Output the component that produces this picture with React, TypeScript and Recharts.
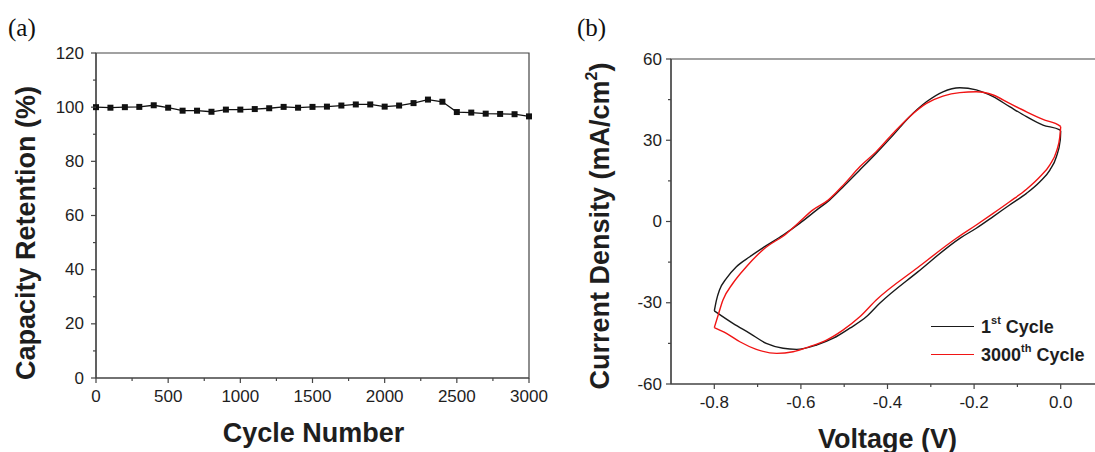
import React from 'react';
import { LineChart, Line, XAxis, YAxis, ReferenceArea, Legend } from 'recharts';

// ---------- Panel (a) data ----------
const cycles = [0, 100, 200, 300, 400, 500, 600, 700, 800, 900, 1000, 1100, 1200, 1300, 1400, 1500, 1600, 1700, 1800, 1900, 2000, 2100, 2200, 2300, 2400, 2500, 2600, 2700, 2800, 2900, 3000];
const retention = [100, 99.8, 100, 100.1, 100.7, 99.8, 98.7, 98.7, 98.3, 99.1, 99.1, 99.3, 99.6, 100.1, 99.8, 100.1, 100.2, 100.6, 101.0, 101.0, 100.2, 100.6, 101.5, 102.8, 102.0, 98.2, 98.0, 97.6, 97.5, 97.4, 96.6];
const retentionTicks = [0, 10, 20, 30, 40, 50, 60, 70, 80, 90, 100, 110, 120];
const cycleTicks = [0, 250, 500, 750, 1000, 1250, 1500, 1750, 2000, 2250, 2500, 2750, 3000];

// ---------- Panel (b) data: each CV loop split into its upper and lower branch ----------
const cycle1UpperV = [-0.800, -0.795, -0.788, -0.772, -0.749, -0.718, -0.680, -0.641, -0.603, -0.564, -0.534, -0.500, -0.464, -0.426, -0.387, -0.349, -0.310, -0.272, -0.233, -0.195, -0.156, -0.118, -0.079, -0.041, -0.002, 0.000];
const cycle1UpperJ = [-33.0, -29.0, -25.3, -21.0, -16.7, -13.0, -8.9, -5.0, -0.7, 4.2, 7.9, 13.2, 19.0, 25.2, 31.9, 38.7, 44.2, 47.9, 49.4, 48.6, 46.1, 42.4, 38.7, 35.6, 33.8, 33.4];
const cycle1LowerV = [-0.800, -0.757, -0.718, -0.680, -0.641, -0.610, -0.564, -0.525, -0.487, -0.449, -0.418, -0.330, -0.233, -0.195, -0.156, -0.118, -0.079, -0.048, -0.025, -0.010, -0.001, 0.000];
const cycle1LowerJ = [-33.0, -37.6, -41.3, -45.0, -46.8, -47.2, -45.6, -43.1, -39.4, -35.2, -30.2, -18.6, -6.2, -2.5, 1.8, 6.1, 10.4, 14.7, 19.0, 23.9, 30.1, 33.4];
const cycle3000UpperV = [-0.800, -0.791, -0.780, -0.757, -0.726, -0.688, -0.633, -0.603, -0.573, -0.537, -0.500, -0.464, -0.426, -0.387, -0.349, -0.310, -0.272, -0.233, -0.195, -0.156, -0.118, -0.079, -0.041, -0.002, 0.000];
const cycle3000UpperJ = [-39.2, -34.5, -29.0, -22.8, -16.7, -10.5, -4.4, -0.1, 4.2, 7.9, 13.8, 20.2, 25.8, 32.6, 38.7, 43.6, 46.3, 47.6, 47.9, 46.7, 43.6, 40.5, 37.7, 35.3, 35.0];
const cycle3000LowerV = [-0.800, -0.772, -0.741, -0.703, -0.656, -0.618, -0.580, -0.541, -0.503, -0.464, -0.426, -0.330, -0.241, -0.195, -0.156, -0.118, -0.079, -0.048, -0.025, -0.010, -0.002, 0.000];
const cycle3000LowerJ = [-39.2, -41.3, -44.4, -47.2, -48.7, -48.1, -46.2, -43.8, -40.1, -35.2, -29.0, -17.0, -6.2, -1.3, 3.0, 7.3, 11.9, 16.5, 20.9, 25.8, 31.3, 35.0];
const voltageTicks = [-0.8, -0.7, -0.6, -0.5, -0.4, -0.3, -0.2, -0.1, 0];
const voltageMajor = [-0.8, -0.6, -0.4, -0.2, 0];
const currentTicks = [-60, -45, -30, -15, 0, 15, 30, 45, 60];

const retentionData = cycles.map((c, i) => ({ cycle: c, retention: retention[i] }));
const toPoints = (vs: number[], js: number[]) => vs.map((v, i) => ({ v, j: js[i] }));
const cv1Upper = toPoints(cycle1UpperV, cycle1UpperJ);
const cv1Lower = toPoints(cycle1LowerV, cycle1LowerJ);
const cv3000Upper = toPoints(cycle3000UpperV, cycle3000UpperJ);
const cv3000Lower = toPoints(cycle3000LowerV, cycle3000LowerJ);

const FONT = "Arial, 'Liberation Sans', Helvetica, sans-serif";
const AXIS = '#444';
const TEXT = '#1e1e1e';
const BLACK = '#1a1a1a';
const RED = '#f01414';

const makeYTick = (axisX: number, isMajor: (v: number) => boolean, gap: number, fmt: (v: number) => string) =>
  (props: any) => {
    const { y, payload } = props;
    const v = payload.value;
    const major = isMajor(v);
    return (
      <g>
        <line x1={axisX - (major ? 5 : 3)} x2={axisX} y1={y} y2={y} stroke={AXIS} strokeWidth={1.2} />
        {major && (
          <text x={axisX - gap} y={y} textAnchor="end" dominantBaseline="central" fontFamily={FONT} fontSize={17} fill={TEXT}>
            {fmt(v)}
          </text>
        )}
      </g>
    );
  };

const makeXTick = (axisY: number, isMajor: (v: number) => boolean, fmt: (v: number) => string) =>
  (props: any) => {
    const { x, payload } = props;
    const v = payload.value;
    const major = isMajor(v);
    return (
      <g>
        <line x1={x} x2={x} y1={axisY} y2={axisY + (major ? 5 : 3)} stroke={AXIS} strokeWidth={1.2} />
        {major && (
          <text x={x} y={axisY + 18} textAnchor="middle" dominantBaseline="central" fontFamily={FONT} fontSize={17} fill={TEXT}>
            {fmt(v)}
          </text>
        )}
      </g>
    );
  };

const SquareDot = (props: any) => {
  const { cx, cy, index } = props;
  if (cx == null || cy == null) return <g key={`e${index}`} />;
  return <rect key={`sq${index}`} x={cx - 3} y={cy - 3} width={6} height={6} fill="#111" />;
};

const CvLegend = (props: any) => {
  const payload = (props.payload || []).filter(
    (p: any) => p.type !== 'none' && !String(p.value).includes('(return)')
  );
  return (
    <div style={{ fontFamily: FONT, fontWeight: 'bold', fontSize: 18, color: TEXT }}>
      {payload.map((p: any, i: number) => {
        const m = /^(\d+)(st|nd|rd|th) (.*)$/.exec(String(p.value));
        return (
          <div key={i} style={{ display: 'flex', alignItems: 'center', height: 28.3, whiteSpace: 'nowrap' }}>
            <span style={{ display: 'inline-block', width: 43, height: 0, borderTop: `1.5px solid ${p.color}`, marginRight: 7 }} />
            {m ? (
              <span>
                {m[1]}
                <sup style={{ fontSize: 11, position: 'relative', top: -2 }}>{m[2]}</sup> {m[3]}
              </span>
            ) : (
              <span>{p.value}</span>
            )}
          </div>
        );
      })}
    </div>
  );
};

export default function App() {
  return (
    <div style={{ position: 'absolute', left: 0, top: 0, width: 1095, height: 452, overflow: 'hidden', background: '#fff' }}>
      <div style={{ position: 'absolute', left: 8, top: 13, fontFamily: "'Times New Roman', 'Liberation Serif', serif", fontSize: 25, color: '#111', lineHeight: '30px' }}>(a)</div>
      <div style={{ position: 'absolute', left: 577, top: 13, fontFamily: "'Times New Roman', 'Liberation Serif', serif", fontSize: 25, color: '#111', lineHeight: '30px' }}>(b)</div>

      {/* Panel (a) */}
      <div style={{ position: 'absolute', left: 0, top: 0 }}>
        <LineChart width={560} height={452} data={retentionData} margin={{ top: 53, right: 31, bottom: 0, left: 0 }}>
          <XAxis
            dataKey="cycle"
            type="number"
            domain={[0, 3000]}
            ticks={cycleTicks}
            interval={0}
            height={74}
            axisLine={{ stroke: AXIS, strokeWidth: 1.2 }}
            tickLine={false}
            tick={makeXTick(378, (v) => v % 500 === 0, (v) => String(v))}
            label={{
              content: (p: any) => {
                const vb = p.viewBox || { x: 96, y: 378, width: 433 };
                return (
                  <text x={vb.x + vb.width / 2 + 1} y={442} textAnchor="middle" fontFamily={FONT} fontWeight="bold" fontSize={27} fill={TEXT}>
                    Cycle Number
                  </text>
                );
              },
            }}
          />
          <YAxis
            type="number"
            domain={[0, 120]}
            ticks={retentionTicks}
            interval={0}
            width={96}
            axisLine={{ stroke: AXIS, strokeWidth: 1.2 }}
            tickLine={false}
            tick={makeYTick(96, (v) => v % 20 === 0, 12, (v) => String(v))}
            label={{
              content: () => (
                <text x={35} y={233} transform="rotate(-90 35 233)" textAnchor="middle" fontFamily={FONT} fontWeight="bold" fontSize={27} fill={TEXT}>
                  Capacity Retention (%)
                </text>
              ),
            }}
          />
          <ReferenceArea x1={0} x2={3000} y1={0} y2={120} fill="none" stroke={AXIS} strokeWidth={1.2} ifOverflow="visible" />
          <Line
            dataKey="retention"
            type="linear"
            stroke="#111"
            strokeWidth={1.3}
            dot={SquareDot}
            activeDot={false}
            isAnimationActive={false}
          />
        </LineChart>
      </div>

      {/* Panel (b) */}
      <div style={{ position: 'absolute', left: 560, top: 0 }}>
        <LineChart width={560} height={452} margin={{ top: 59, right: 16, bottom: 0, left: 0 }}>
          <XAxis
            dataKey="v"
            type="number"
            domain={[-0.9, 0.1]}
            ticks={voltageTicks}
            interval={0}
            height={68}
            allowDuplicatedCategory={false}
            axisLine={{ stroke: AXIS, strokeWidth: 1.2 }}
            tickLine={false}
            tick={makeXTick(384, (v) => voltageMajor.some((m) => Math.abs(m - v) < 1e-6), (v) => (Math.abs(v) < 1e-9 ? '0.0' : v.toFixed(1)))}
            label={{
              content: (p: any) => {
                const vb = p.viewBox || { x: 111, y: 384, width: 433 };
                return (
                  <text x={vb.x + vb.width / 2} y={448} textAnchor="middle" fontFamily={FONT} fontWeight="bold" fontSize={27} fill={TEXT}>
                    Voltage (V)
                  </text>
                );
              },
            }}
          />
          <YAxis
            dataKey="j"
            type="number"
            domain={[-60, 60]}
            ticks={currentTicks}
            interval={0}
            width={111}
            axisLine={{ stroke: AXIS, strokeWidth: 1.2 }}
            tickLine={false}
            tick={makeYTick(111, (v) => v % 30 === 0, 9, (v) => String(v))}
            label={{
              content: () => (
                <text x={49} y={226} transform="rotate(-90 49 226)" textAnchor="middle" fontFamily={FONT} fontWeight="bold" fontSize={27} fill={TEXT}>
                  Current Density (mA/cm
                  <tspan fontSize={16} dy={-12}>2</tspan>
                  <tspan dy={12}>)</tspan>
                </text>
              ),
            }}
          />
          <ReferenceArea x1={-0.9} x2={0.1} y1={-60} y2={60} fill="none" stroke={AXIS} strokeWidth={1.2} ifOverflow="visible" />
          <Legend
            layout="horizontal"
            verticalAlign="middle"
            align="center"
            content={CvLegend}
            wrapperStyle={{ position: 'absolute', left: 371, top: 312.5, width: 'auto', height: 'auto' }}
          />
          <Line data={cv1Upper} dataKey="j" name="1st Cycle" type="monotone" stroke={BLACK} strokeWidth={1.4} dot={false} activeDot={false} isAnimationActive={false} />
          <Line data={cv1Lower} dataKey="j" name="1st Cycle (return)" legendType="none" type="monotone" stroke={BLACK} strokeWidth={1.4} dot={false} activeDot={false} isAnimationActive={false} />
          <Line data={cv3000Upper} dataKey="j" name="3000th Cycle" type="monotone" stroke={RED} strokeWidth={1.4} dot={false} activeDot={false} isAnimationActive={false} />
          <Line data={cv3000Lower} dataKey="j" name="3000th Cycle (return)" legendType="none" type="monotone" stroke={RED} strokeWidth={1.4} dot={false} activeDot={false} isAnimationActive={false} />
        </LineChart>
      </div>
    </div>
  );
}
